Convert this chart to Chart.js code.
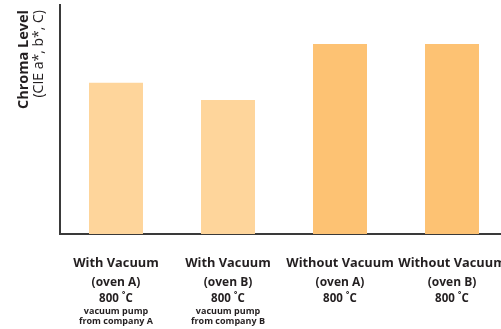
<!DOCTYPE html>
<html>
<head>
<meta charset="utf-8">
<script src="https://cdn.jsdelivr.net/npm/chart.js@4"></script>
<style>
  html, body { margin: 0; padding: 0; background: #fff; overflow: hidden; }
  #wrap { width: 501px; height: 329px; overflow: hidden; }
</style>
</head>
<body>
<div id="wrap"><canvas id="myChart" width="510" height="329"></canvas></div>
<script>
// chart data
const groups = ['With Vacuum', 'With Vacuum', 'Without Vacuum', 'Without Vacuum'];
const ovens = ['(oven A)', '(oven B)', '(oven A)', '(oven B)'];
const temps = ['800 ˚C', '800 ˚C', '800 ˚C', '800 ˚C'];
const pumpNotes = [
  ['vacuum pump', 'from company A'],
  ['vacuum pump', 'from company B'],
  [],
  []
];
const chromaValues = [66, 58.5, 83, 83];

const yTitleBold = 'Chroma Level';
const yTitleSub = '(CIE a*, b*, C)';

const barColors = ['#FED59B', '#FED59B', '#FDC273', '#FDC273'];
const fontName = '"Open Sans", "Noto Sans", sans-serif';

// labels for chart.js (all lines together)
const labels = [];
for (let i = 0; i < groups.length; i++) {
  labels.push([groups[i], ovens[i], temps[i]].concat(pumpNotes[i]));
}

// draws the multi font tick labels and the y title
const textPlugin = {
  id: 'textPlugin',
  afterDraw(chart) {
    const c = chart.ctx;
    const xScale = chart.scales.x;
    c.save();
    c.fillStyle = '#231f20';
    c.textAlign = 'center';
    c.textBaseline = 'alphabetic';
    for (let i = 0; i < groups.length; i++) {
      const x = xScale.getPixelForValue(i);
      c.font = 'bold 12.8px ' + fontName;
      c.fillText(groups[i], x, 267);
      c.font = 'bold 12px ' + fontName;
      c.fillText(ovens[i], x, 286);
      c.font = 'bold 11.5px ' + fontName;
      c.fillText(temps[i], x, 301.5);
      c.font = 'bold 9px ' + fontName;
      for (let j = 0; j < pumpNotes[i].length; j++) {
        c.fillText(pumpNotes[i][j], x, 313.5 + j * 10.5);
      }
    }

    // y title, rotated
    c.rotate(-Math.PI / 2);
    c.textAlign = 'right';
    c.font = 'bold 14.5px ' + fontName;
    c.fillText(yTitleBold, -10, 28);
    c.font = '14px ' + fontName;
    c.fillText(yTitleSub, -10, 42.5);
    c.restore();
  }
};

const ctx = document.getElementById('myChart');

const chromaChart = new Chart(ctx, {
  type: 'bar',
  data: {
    labels: labels,
    datasets: [{
      label: 'Chroma Level',
      data: chromaValues,
      backgroundColor: barColors,
      borderWidth: 0,
      barPercentage: 0.482,
      categoryPercentage: 1
    }]
  },
  options: {
    responsive: false,
    animation: false,
    devicePixelRatio: 1,
    layout: {
      padding: { left: 60, top: 5, right: 2, bottom: 95 }
    },
    plugins: {
      legend: { display: false },
      tooltip: { enabled: false }
    },
    scales: {
      x: {
        grid: { display: false, drawTicks: false },
        border: { display: true, color: '#3a3a3a', width: 2 },
        ticks: { display: false }
      },
      y: {
        min: 0,
        max: 100,
        grid: { display: false, drawTicks: false },
        border: { display: true, color: '#3a3a3a', width: 2 },
        ticks: { display: false }
      }
    }
  },
  plugins: [textPlugin]
});
</script>
</body>
</html>
